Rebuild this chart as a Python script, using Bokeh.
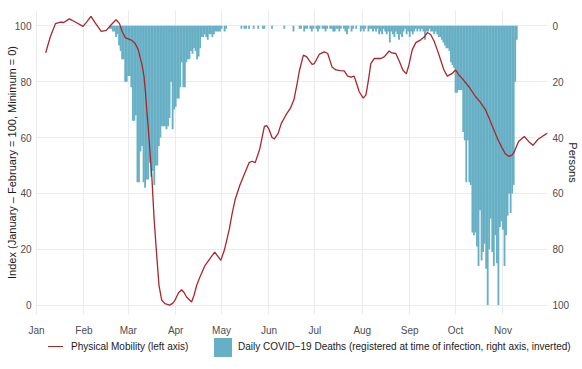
import pandas as pd
from bokeh.plotting import figure
from bokeh.layouts import column
from bokeh.models import (Range1d, LinearAxis, FixedTicker, DatetimeTickFormatter,
                          ColumnDataSource, Div)
from bokeh.embed import file_html
from bokeh.resources import INLINE

# ---------------- data ----------------
year_start = "2020-01-01"
# physical mobility: day offset from Jan 1, index value
mobility_day = [6, 9, 12.4, 15.6, 17.8, 21.5, 26, 30.4, 33, 35.6, 38.5, 42.3, 45.6, 49, 52, 54.3, 56,
                58, 62.3, 64.5, 66.5, 67.7, 69, 70.3, 71.2, 72.1, 73, 73.8, 75.4, 76.9, 78.6, 80.1,
                81.9, 84, 87, 89, 90.5, 93, 94.9, 96.5, 98.1, 101.4, 103, 104.7, 106.8, 110, 113.3,
                116.5, 118.5, 120.5, 123, 126, 128, 130, 133, 136, 139, 141, 143, 146, 149, 150.5,
                152, 154, 155.5, 158, 160, 163, 166, 168.3, 170.3, 172, 174.5, 176.7, 178.5, 180.2,
                181.7, 185, 188.2, 190.4, 193.2, 195.8, 198.5, 201.2, 203.4, 205.6, 207.7, 209.5,
                211, 213.6, 215.4, 217, 218.6, 220.8, 223, 225.2, 227.3, 230.6, 232.3, 234.9, 237.5,
                239.5, 241.8, 243.5, 245.7, 248, 251.2, 253.5, 255.5, 257.7, 260, 262.1, 264.3,
                266.4, 268.6, 271.9, 274, 276, 278.3, 282.7, 287, 290, 293.6, 296, 299, 301.5,
                304.4, 306.5, 308.7, 310.5, 312, 315.2, 318.9, 321.7, 324.6, 327.8, 331.5, 334.1]
mobility_val = [90.3, 96, 100.8, 101.3, 101.2, 102.5, 101.2, 99.8, 101.5, 103.4, 101, 98, 98.4, 100.5,
                102.2, 100.8, 98, 95.8, 94.8, 93.7, 91.5, 88.9, 86, 81.8, 76.5, 69.9, 64, 58, 46,
                30.8, 17.7, 7, 1.7, 0.5, 0, 0.6, 1.7, 4.5, 5.5, 4.5, 2.9, 1.1, 3.5, 7, 10, 14, 16.5,
                19, 17.5, 16, 20, 27, 33, 38, 43, 47, 51, 51.5, 51, 56, 64, 64.3, 63, 60, 59.5, 61.5,
                65, 68, 70.5, 73.5, 79, 84.2, 89.5, 88.9, 87.5, 86.2, 86.5, 89.9, 90.7, 90.1, 85.3,
                84.2, 84, 83.9, 82, 81.6, 82, 79, 76.4, 74.1, 75.3, 80.5, 86.5, 88.3, 88.3, 88.3,
                88.9, 91, 90.3, 90.1, 87, 84.2, 82.8, 86, 91.5, 94, 95, 96, 97.6, 96.9, 94.5, 91.3,
                87.7, 84.2, 82, 83, 84.2, 82.5, 81.2, 78.2, 74.7, 72.8, 69.9, 66.8, 62.8, 59.5,
                56.3, 54.2, 53.3, 53.5, 54.5, 58.6, 60.4, 58.6, 57.2, 59.3, 60.7, 61.6]

# daily COVID-19 deaths (persons), first day 2020-02-18
deaths_first_day = "2020-02-18"
deaths = [
    # Feb 18 - Apr 22
    1, 1, 2, 2, 4, 3, 7, 9, 12, 12, 20, 20, 18, 18, 22, 34, 34, 32, 56, 56, 45, 43, 56, 58,
    55, 55, 49, 54, 52, 57, 50, 50, 43, 40, 36, 36, 36, 37, 36, 33, 20, 37, 30, 29, 26, 26,
    22, 13, 22, 22, 13, 12, 12, 9, 10, 8, 9, 12, 11, 8, 4, 4, 3, 4, 5,
    # Apr 23 - Sep 6
    3, 3, 4, 3, 2, 2, 2, 2, 1, 0, 2, 1, 0, 0, 0, 0, 0, 0, 0, 0, 0, 1, 0, 1, 1, 0, 1, 0, 0,
    1, 0, 0, 1, 0, 0, 1, 1, 0, 0, 0, 0, 1, 0, 0, 0, 0, 0, 0, 0, 1, 0, 0, 0, 0, 0, 2, 0, 0,
    0, 1, 1, 0, 2, 1, 1, 0, 1, 2, 1, 0, 1, 2, 1, 0, 1, 1, 2, 1, 0, 1, 1, 2, 2, 1, 1, 2, 1,
    0, 1, 2, 3, 1, 0, 2, 1, 0, 1, 0, 0, 2, 1, 2, 1, 0, 2, 1, 1, 2, 1, 2, 1, 3, 2, 3, 1, 2,
    3, 2, 6, 2, 3, 4, 2, 3, 5, 3, 4, 2, 1, 3, 2, 4, 2, 3, 2, 1, 2,
    # Sep 7 - Nov 10
    1, 2, 1, 2, 5, 2, 2, 1, 2, 2, 3, 2, 3, 4, 4, 5, 6, 7, 8, 8, 9, 13, 14, 15, 24, 24, 23,
    23, 23, 38, 41, 56, 41, 56, 57, 74, 75, 74, 79, 86, 66, 84, 81, 78, 87, 100, 80, 69, 81,
    86, 75, 85, 100, 72, 70, 73, 86, 75, 68, 60, 67, 60, 57, 20, 5,
]

left_ticks = [0, 20, 40, 60, 80, 100]
right_ticks = [0, 20, 40, 60, 80, 100]
month_ticks = ["2020-01-01", "2020-02-01", "2020-03-01", "2020-04-01", "2020-05-01", "2020-06-01",
               "2020-07-01", "2020-08-01", "2020-09-01", "2020-10-01", "2020-11-01"]

left_title = "Index (January \u2013 February = 100, Minimum = 0)"
right_title = "Persons"
line_label = "Physical Mobility (left axis)"
bar_label = "Daily COVID\u221219 Deaths (registered at time of infection, right axis, inverted)"

LINE_COLOR = "#A8272C"
BAR_COLOR = "#67AFC4"
FONT = "Liberation Sans"

# ---------------- build ----------------
t0 = pd.Timestamp(year_start)
mob_src = ColumnDataSource(dict(x=t0 + pd.to_timedelta(mobility_day, unit="D"), y=mobility_val))
bar_dates = pd.date_range(deaths_first_day, periods=len(deaths), freq="D")
bar_src = ColumnDataSource(dict(x=bar_dates, top=[0] * len(deaths), bottom=deaths))

x_start = t0 - pd.Timedelta(days=0.65)
x_end = t0 + pd.Timedelta(days=334.1)

W = 582
MAIN_H = 338
LEG_H = 369 - MAIN_H

p = figure(width=W, height=MAIN_H, output_backend="svg", toolbar_location=None,
           x_axis_type="datetime",
           x_range=Range1d(x_start, x_end),
           y_range=Range1d(-3.38, 105.5),
           min_border_left=35, min_border_right=33, min_border_top=10,
           min_border_bottom=MAIN_H - 316)
p.outline_line_color = None
p.background_fill_color = "white"
p.border_fill_color = "white"

p.extra_y_ranges = {"persons": Range1d(103.38, -5.5)}

bar_r = p.vbar(x="x", top="top", bottom="bottom", width=86400000 * 1.2, source=bar_src,
               y_range_name="persons", fill_color=BAR_COLOR, line_color=None)
line_r = p.line(x="x", y="y", source=mob_src, line_color=LINE_COLOR, line_width=1.3)

month_ms = [pd.Timestamp(m).value // 10**6 for m in month_ticks]

# grids
p.xgrid.ticker = FixedTicker(ticks=month_ms)
p.ygrid.ticker = FixedTicker(ticks=left_ticks)
for g in (p.xgrid, p.ygrid):
    g.grid_line_color = "#EBEBEB"
    g.grid_line_width = 1.1

def style_axis(ax):
    ax.axis_line_color = None
    ax.major_tick_line_color = None
    ax.minor_tick_line_color = None
    ax.major_tick_out = 0
    ax.major_tick_in = 0
    ax.minor_tick_out = 0
    ax.major_label_text_font = FONT
    ax.major_label_text_font_size = "10px"
    ax.major_label_text_color = "#4D4D4D"
    ax.axis_label_text_font = FONT
    ax.axis_label_text_font_size = "11px"
    ax.axis_label_text_font_style = "normal"
    ax.axis_label_text_color = "#1A1A1A"

xa = p.xaxis[0]
xa.ticker = FixedTicker(ticks=month_ms)
xa.formatter = DatetimeTickFormatter(days="%b", months="%b", years="%b")
style_axis(xa)
xa.major_label_standoff = 10

ya = p.yaxis[0]
ya.ticker = FixedTicker(ticks=left_ticks)
ya.axis_label = left_title
style_axis(ya)
ya.major_label_standoff = 4
ya.axis_label_standoff = -6

ra = LinearAxis(y_range_name="persons", ticker=FixedTicker(ticks=right_ticks),
                axis_label=right_title)
style_axis(ra)
ra.major_label_standoff = 5
ra.axis_label_standoff = -5
p.add_layout(ra, "right")

# ---------------- legend strip ----------------
legend_html = (
    f'<div style="position:relative;width:{W}px;height:{LEG_H}px;'
    f"font-family:'{FONT}';font-size:10px;color:#1A1A1A;\">"
    f'<div style="position:absolute;left:48px;top:8px;width:15px;height:1.3px;'
    f'background:{LINE_COLOR};"></div>'
    f'<div style="position:absolute;left:71px;top:3px;line-height:12px;white-space:nowrap;">'
    f'{line_label}</div>'
    f'<div style="position:absolute;left:214px;top:0px;width:18px;height:19px;'
    f'background:{BAR_COLOR};"></div>'
    f'<div style="position:absolute;left:238px;top:3px;line-height:12px;white-space:nowrap;">'
    f'{bar_label}</div>'
    f'</div>'
)
legend_div = Div(text=legend_html, width=W, height=LEG_H, margin=(0, 0, 0, 0))

layout = column(p, legend_div, spacing=0)
open("out.html", "w", encoding="utf-8").write(file_html(layout, INLINE))
